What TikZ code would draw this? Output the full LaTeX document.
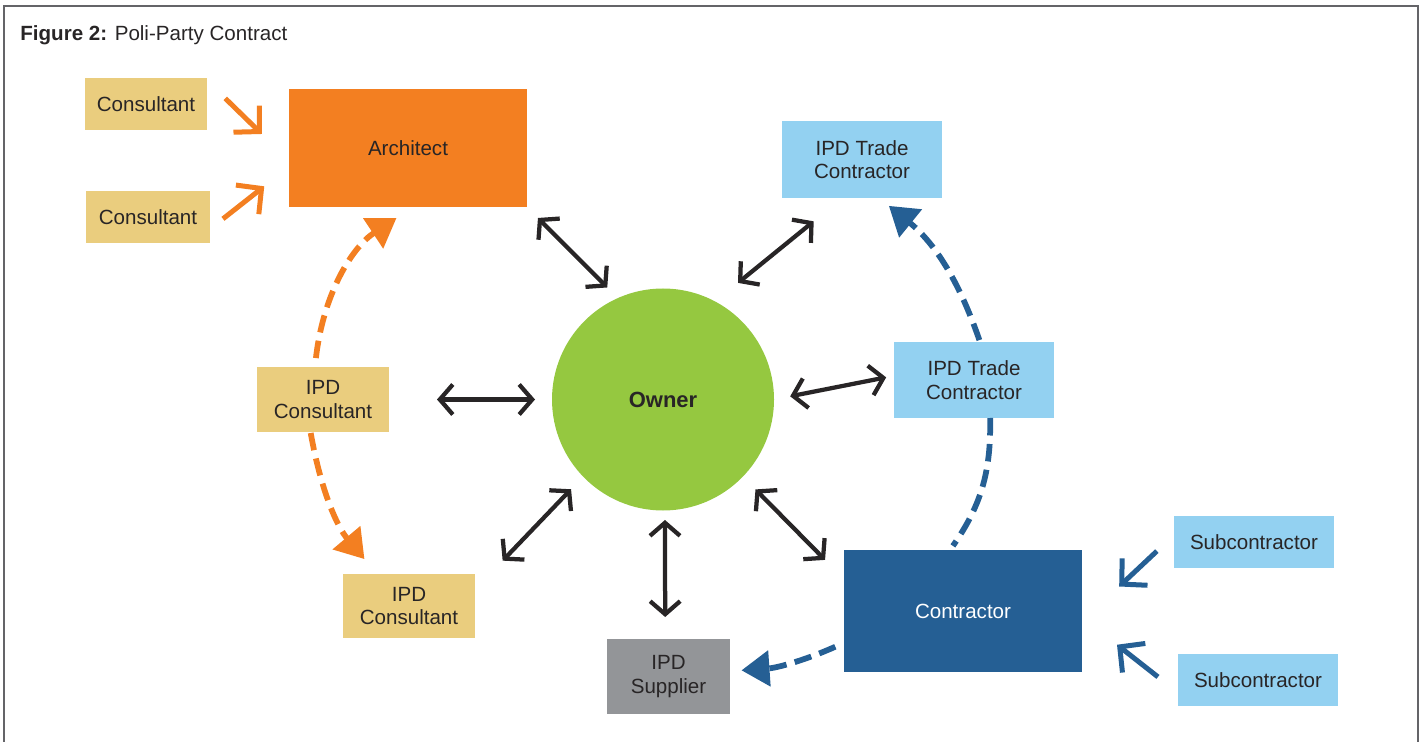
\documentclass[tikz,border=0pt]{standalone}
\usepackage{fontspec}
\setmainfont{Liberation Sans}
\usepackage{tikz}
\usetikzlibrary{arrows.meta,positioning}

\definecolor{ink}{RGB}{40,37,38}
\definecolor{framegray}{RGB}{100,100,104}
\definecolor{conscol}{RGB}{234,205,126}
\definecolor{archcol}{RGB}{243,127,33}
\definecolor{tradecol}{RGB}{147,209,241}
\definecolor{contcol}{RGB}{37,95,148}
\definecolor{ownercol}{RGB}{149,200,64}
\definecolor{supcol}{RGB}{147,149,152}

\begin{document}
\begin{tikzpicture}[
                x=0.2mm, y=-0.2mm,
                font=\fontsize{11.7}{13.3}\selectfont,
                box/.style={rectangle, inner sep=0pt, outer sep=0pt, align=center, text=ink},
                dbl/.style={{Straight Barb[length=2.6mm,width=6mm,line join=miter]}-{Straight Barb[length=2.6mm,width=6mm,line join=miter]}, line width=0.85mm, draw=ink},
                one/.style={-{Straight Barb[length=3.6mm,width=7.4mm,line join=miter]}, line width=1mm},
                pass/.style={line width=1.15mm, dash pattern=on 3.5mm off 1.7mm},
                passarrow/.style={pass, -{Triangle[length=5.6mm,width=7mm]}},
            ]
            \useasboundingbox (0,0) rectangle (1421,742);
            \draw[framegray, line width=0.3mm] (4,742) -- (4,6) -- (1418,6) -- (1418,742);
            \node[anchor=base west, inner sep=0pt, text=ink] (title) at (20,40.5) {\textbf{Figure 2:} Poli-Party Contract};

            \node[box, fill=conscol, minimum width=24.4mm, minimum height=10.4mm] (cons1) at (146,104) {Consultant};
            \node[box, fill=conscol, minimum width=24.8mm, minimum height=10.4mm] (cons2) at (148,217) {Consultant};
            \node[box, fill=archcol, minimum width=47.6mm, minimum height=23.6mm] (arch) at (408,148) {Architect};
            \node[box, fill=tradecol, minimum width=32mm, minimum height=15.4mm] (tradetop) at (862,159.5) {IPD Trade\\Contractor};
            \node[box, fill=tradecol, minimum width=32mm, minimum height=15.2mm] (trademid) at (974,380) {IPD Trade\\Contractor};
            \node[box, fill=conscol, minimum width=26.4mm, minimum height=13mm] (ipdcons1) at (323,399.5) {IPD\\Consultant};
            \node[circle, fill=ownercol, minimum size=44.4mm, inner sep=0pt, outer sep=0pt, text=ink,
                font=\fontsize{12.5}{14}\selectfont\bfseries] (owner) at (663,399.5) {Owner};
            \node[box, fill=conscol, minimum width=26.4mm, minimum height=12.8mm] (ipdcons2) at (409,606) {IPD\\Consultant};
            \node[box, fill=supcol, minimum width=24.6mm, minimum height=15mm] (supplier) at (668.5,676.5) {IPD\\Supplier};
            \node[box, fill=contcol, text=white, minimum width=47.6mm, minimum height=24.4mm] (contractor) at (963,611) {Contractor};
            \node[box, fill=tradecol, minimum width=32mm, minimum height=10.4mm] (sub1) at (1254,542) {Subcontractor};
            \node[box, fill=tradecol, minimum width=32mm, minimum height=10.4mm] (sub2) at (1258,680) {Subcontractor};

            \draw[dbl, shorten <=3.1mm, shorten >=3mm] (arch.south east) -- (owner.114);
            \draw[dbl, shorten <=5.9mm, shorten >=7.4mm] (owner.62.6) -- (tradetop.-117);
            \draw[dbl, shorten <=3.3mm, shorten >=1.6mm] (owner.0) -- (trademid.177.4);
            \draw[dbl, shorten <=9.6mm, shorten >=3.4mm] (ipdcons1.east) -- (owner.180);
            \draw[dbl, shorten <=3.5mm, shorten >=8mm] (owner.224.7) -- (ipdcons2.14.9);
            \draw[dbl, shorten <=1.9mm, shorten >=4.4mm] (owner.-89) -- (supplier.95.3);
            \draw[dbl, shorten <=3.6mm, shorten >=5.4mm] (owner.-44.5) -- (contractor.165);

            \draw[one, archcol, shorten <=5.1mm, shorten >=7.6mm] (cons1.21.5) -- (arch.186.7);
            \draw[one, archcol, shorten <=3.3mm, shorten >=6.3mm] (cons2.-11.9) -- (arch.189.8);
            \draw[passarrow, archcol, shorten <=1.8mm, shorten >=4mm] (ipdcons1.104) to[bend left=25] (arch.-85.5);
            \draw[passarrow, archcol, shorten <=0.2mm, shorten >=3.9mm] (ipdcons1.-111.8) to[bend right=15] (ipdcons2.135.5);

            \draw[passarrow, contcol, shorten <=0.4mm, shorten >=2.5mm] (trademid.81) to[bend right=16] (tradetop.-66.2);
            \draw[pass, contcol, shorten >=1mm] (trademid.-67.7) to[bend left=18] (contractor.102.9);
            \draw[passarrow, contcol, shorten <=1.9mm, shorten >=2.3mm] (contractor.195.7) to[bend left=10] (supplier.5.1);
            \draw[one, contcol, shorten <=4.7mm, shorten >=10.2mm] (sub1.175.7) -- (contractor.-5.8);
            \draw[one, contcol, shorten <=5.1mm, shorten >=8.9mm] (sub2.189.6) -- (contractor.-3.7);
        \end{tikzpicture}
\end{document}
